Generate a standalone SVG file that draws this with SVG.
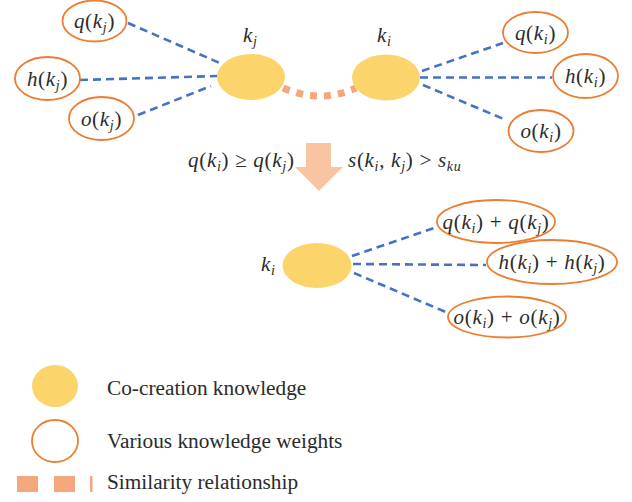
<svg xmlns="http://www.w3.org/2000/svg" width="632" height="502" viewBox="0 0 632 502">
<style>
text{font-family:"Liberation Serif","DejaVu Serif",serif;fill:#2b2b2b}
.m{font-size:21px;font-style:italic;letter-spacing:0.7px}
.u{font-style:normal}
.s{font-size:14px}
.lg{font-size:21.3px}
.ln{stroke:#4472C4;stroke-width:2.6;stroke-dasharray:8 5;fill:none}
.wt{fill:#fff;stroke:#ED7D31;stroke-width:1.8}
.kn{fill:#FBD46B}
.sim{stroke:#F4A77D;stroke-width:7;stroke-dasharray:7 7;fill:none}
</style>
<g id="connectors">
<line class="ln" x1="128" y1="23" x2="222" y2="64"/>
<line class="ln" x1="80" y1="80" x2="217" y2="76"/>
<line class="ln" x1="138" y1="115" x2="211" y2="86"/>
<line class="ln" x1="422" y1="71" x2="503" y2="43"/>
<line class="ln" x1="420" y1="77.5" x2="552" y2="77.5"/>
<line class="ln" x1="423" y1="85" x2="506" y2="120"/>
<line class="ln" x1="352" y1="256" x2="437" y2="227"/>
<line class="ln" x1="353" y1="264" x2="486" y2="265"/>
<line class="ln" x1="354" y1="273" x2="448" y2="313"/>
<path class="sim" d="M283 88 Q320 104 356 88"/>
</g>
<g id="arrow">
<polygon points="306,143 331,143 331,167 343,167 319,191 295,167 306,167" fill="#F8C4A2"/>
</g>
<g id="kj">
<ellipse class="kn" cx="251" cy="77" rx="34" ry="23"/>
<text class="m" x="243" y="42">k<tspan class="s" dy="4">j</tspan></text>
</g>
<g id="ki">
<ellipse class="kn" cx="386" cy="77.5" rx="34" ry="23"/>
<text class="m" x="377" y="42">k<tspan class="s" dy="4">i</tspan></text>
</g>
<g id="q_kj">
<ellipse class="wt" cx="94.5" cy="21" rx="32" ry="20.5"/>
<text class="m" x="94.5" y="28" text-anchor="middle">q<tspan class="u">(</tspan>k<tspan class="s" dy="4">j</tspan><tspan class="u" dy="-4">)</tspan></text>
</g>
<g id="h_kj">
<ellipse class="wt" cx="47.5" cy="78.5" rx="32.5" ry="21.5"/>
<text class="m" x="47.5" y="86" text-anchor="middle">h<tspan class="u">(</tspan>k<tspan class="s" dy="4">j</tspan><tspan class="u" dy="-4">)</tspan></text>
</g>
<g id="o_kj">
<ellipse class="wt" cx="101.5" cy="118.5" rx="32.5" ry="21.5"/>
<text class="m" x="101.5" y="126" text-anchor="middle">o<tspan class="u">(</tspan>k<tspan class="s" dy="4">j</tspan><tspan class="u" dy="-4">)</tspan></text>
</g>
<g id="q_ki">
<ellipse class="wt" cx="535.5" cy="32.5" rx="32.5" ry="20.5"/>
<text class="m" x="535.5" y="40" text-anchor="middle">q<tspan class="u">(</tspan>k<tspan class="s" dy="4">i</tspan><tspan class="u" dy="-4">)</tspan></text>
</g>
<g id="h_ki">
<ellipse class="wt" cx="585.5" cy="76" rx="32.5" ry="22"/>
<text class="m" x="585.5" y="83" text-anchor="middle">h<tspan class="u">(</tspan>k<tspan class="s" dy="4">i</tspan><tspan class="u" dy="-4">)</tspan></text>
</g>
<g id="o_ki">
<ellipse class="wt" cx="541" cy="131" rx="32.5" ry="21"/>
<text class="m" x="541" y="138" text-anchor="middle">o<tspan class="u">(</tspan>k<tspan class="s" dy="4">i</tspan><tspan class="u" dy="-4">)</tspan></text>
</g>
<g id="conditions">
<text class="m" x="188" y="167">q<tspan class="u">(</tspan>k<tspan class="s" dy="4">i</tspan><tspan class="u" dy="-4">) ≥ </tspan>q<tspan class="u">(</tspan>k<tspan class="s" dy="4">j</tspan><tspan class="u" dy="-4">)</tspan></text>
<text class="m" x="348" y="167">s<tspan class="u">(</tspan>k<tspan class="s" dy="4">i</tspan><tspan class="u" dy="-4">, </tspan>k<tspan class="s" dy="4">j</tspan><tspan class="u" dy="-4">) &gt; </tspan>s<tspan class="s" dy="4">ku</tspan></text>
</g>
<g id="ki_merged">
<ellipse class="kn" cx="317" cy="265.5" rx="34.5" ry="22.5"/>
<text class="m" x="261" y="271">k<tspan class="s" dy="4">i</tspan></text>
</g>
<g id="q_sum">
<ellipse class="wt" cx="496" cy="221.5" rx="59" ry="21.5"/>
<text class="m" x="496" y="229" text-anchor="middle">q<tspan class="u">(</tspan>k<tspan class="s" dy="4">i</tspan><tspan class="u" dy="-4">) + </tspan>q<tspan class="u">(</tspan>k<tspan class="s" dy="4">j</tspan><tspan class="u" dy="-4">)</tspan></text>
</g>
<g id="h_sum">
<ellipse class="wt" cx="552" cy="262" rx="65" ry="22"/>
<text class="m" x="552" y="269" text-anchor="middle">h<tspan class="u">(</tspan>k<tspan class="s" dy="4">i</tspan><tspan class="u" dy="-4">) + </tspan>h<tspan class="u">(</tspan>k<tspan class="s" dy="4">j</tspan><tspan class="u" dy="-4">)</tspan></text>
</g>
<g id="o_sum">
<ellipse class="wt" cx="507" cy="317" rx="59" ry="20.5"/>
<text class="m" x="507" y="324" text-anchor="middle">o<tspan class="u">(</tspan>k<tspan class="s" dy="4">i</tspan><tspan class="u" dy="-4">) + </tspan>o<tspan class="u">(</tspan>k<tspan class="s" dy="4">j</tspan><tspan class="u" dy="-4">)</tspan></text>
</g>
<g id="legend">
<ellipse class="kn" cx="55" cy="386" rx="23" ry="21"/>
<text class="lg" x="107" y="395">Co-creation knowledge</text>
<ellipse class="wt" cx="55" cy="441" rx="23" ry="21"/>
<text class="lg" x="107" y="448">Various knowledge weights</text>
<rect x="17" y="476" width="21" height="16" fill="#F4A77D"/>
<rect x="54" y="476" width="21" height="16" fill="#F4A77D"/>
<rect x="90" y="476" width="2.5" height="16" fill="#F4A77D"/>
<text class="lg" x="107" y="489">Similarity relationship</text>
</g>
</svg>
